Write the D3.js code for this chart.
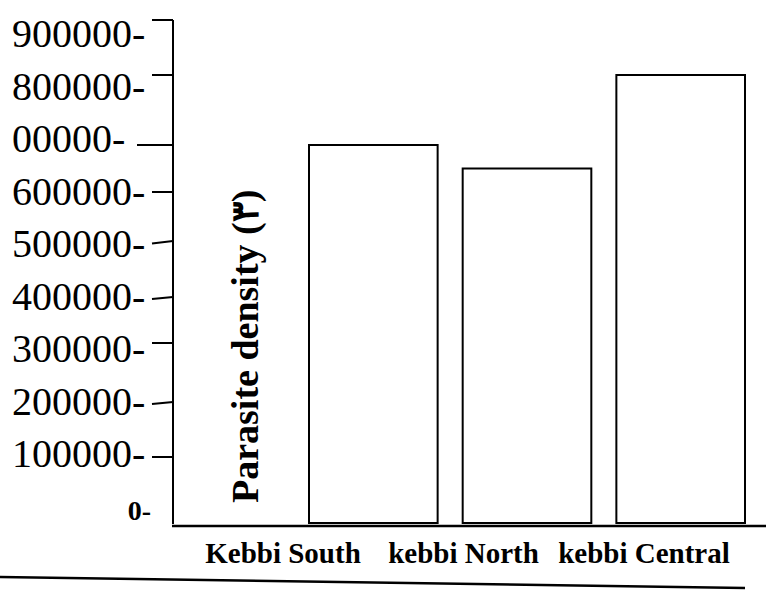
<!DOCTYPE html>
<html>
<head>
<meta charset="utf-8">
<script src="https://cdn.jsdelivr.net/npm/d3@7"></script>
<style>
  body { margin: 0; background: #fff; }
  svg { display: block; }
  text { font-family: "Liberation Serif", "Times New Roman", serif; fill: #000; }
</style>
</head>
<body>
<div id="chart"></div>
<script>
// data
const categories = ['Kebbi South', 'kebbi North', 'kebbi Central']
const density = [700000, 650000, 800000]
const tickValues = [0, 100000, 200000, 300000, 400000, 500000, 600000, 700000, 800000, 900000]
const tickLabels = ['0-', '100000-', '200000-', '300000-', '400000-', '500000-', '600000-', '00000-', '800000-', '900000-']
const yTitle = 'Parasite density (\u0663)'

const width = 766
const height = 591

const svg = d3.select('#chart').append('svg')
  .attr('width', width)
  .attr('height', height)

// the scanned axis is not evenly spaced, so the scale is piecewise
const y = d3.scaleLinear()
  .domain(tickValues)
  .range([525, 457, 402, 343, 297, 241, 192, 145, 75, 20])

// the tick labels themselves sit on an even grid
const yLabel = d3.scaleLinear()
  .domain([0, 900000])
  .range([520, 47])

const x = d3.scaleBand()
  .domain(categories)
  .range([309, 745])
  .paddingInner(0.163)
  .paddingOuter(0)

// category labels are set slightly left of the bars
const xLabel = d3.scalePoint()
  .domain(categories)
  .range([283, 644])

const axisX = 173

// y axis line
svg.append('line')
  .attr('x1', axisX).attr('x2', axisX)
  .attr('y1', y(900000)).attr('y2', y(0) - 1)
  .attr('stroke', '#000').attr('stroke-width', 2)

// ticks, a few of them lean a little in the scan
const lean = { 200000: 2, 400000: 2, 500000: 2.5 }
svg.selectAll('.tick')
  .data(tickValues.filter(d => d > 0))
  .join('line')
  .attr('class', 'tick')
  .attr('x1', d => d === 700000 ? axisX - 36 : axisX - 21)
  .attr('x2', axisX)
  .attr('y1', d => y(d) + (lean[d] || 0))
  .attr('y2', d => y(d))
  .attr('stroke', '#000').attr('stroke-width', 2)

// tick labels
svg.selectAll('.tlabel')
  .data(tickValues)
  .join('text')
  .attr('class', 'tlabel')
  .attr('x', d => d === 0 ? 151 : 12)
  .attr('y', d => yLabel(d))
  .attr('text-anchor', d => d === 0 ? 'end' : 'start')
  .style('font-size', d => d === 0 ? '28px' : '40px')
  .style('font-weight', d => d === 0 ? 'bold' : 'normal')
  .text((d, i) => tickLabels[i])

// x axis line
svg.append('line')
  .attr('x1', axisX - 1).attr('x2', width)
  .attr('y1', y(0) + 1).attr('y2', y(0) + 1)
  .attr('stroke', '#000').attr('stroke-width', 2.5)

// bars
svg.selectAll('.bar')
  .data(density)
  .join('rect')
  .attr('class', 'bar')
  .attr('x', (d, i) => x(categories[i]))
  .attr('y', d => y(d))
  .attr('width', x.bandwidth())
  .attr('height', d => y(0) - 2 - y(d))
  .attr('fill', '#fff')
  .attr('stroke', '#000')
  .attr('stroke-width', 2)

// y title
svg.append('text')
  .attr('transform', 'translate(258,503) rotate(-90)')
  .attr('text-anchor', 'start')
  .style('font-size', '38px')
  .style('font-weight', 'bold')
  .text(yTitle)

// category labels
svg.selectAll('.clabel')
  .data(categories)
  .join('text')
  .attr('class', 'clabel')
  .attr('x', d => xLabel(d))
  .attr('y', 563)
  .attr('text-anchor', 'middle')
  .style('font-size', '29px')
  .style('font-weight', 'bold')
  .text(d => d)

// frame line under the figure
svg.append('line')
  .attr('x1', 0).attr('x2', 745)
  .attr('y1', 577).attr('y2', 588)
  .attr('stroke', '#000').attr('stroke-width', 2.5)
</script>
</body>
</html>
